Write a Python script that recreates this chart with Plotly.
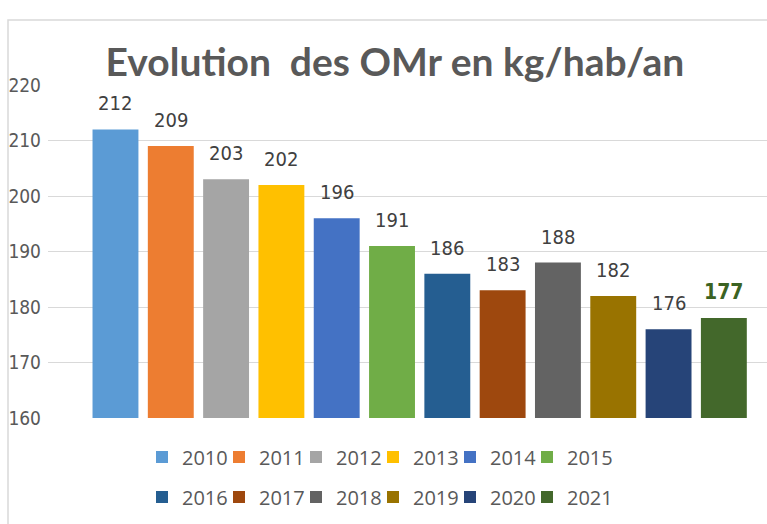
import plotly.graph_objects as go

years = ["2010", "2011", "2012", "2013", "2014", "2015",
         "2016", "2017", "2018", "2019", "2020", "2021"]
values = [212, 209, 203, 202, 196, 191, 186, 183, 188, 182, 176, 178]
labels = ["212", "209", "203", "202", "196", "191", "186", "183", "188", "182", "176", "177"]
colors = ["#5b9bd5", "#ed7d31", "#a5a5a5", "#ffc000", "#4472c4", "#70ad47",
          "#255e91", "#9e480e", "#636363", "#997300", "#264478", "#43682b"]
y_ticks = [160, 170, 180, 190, 200, 210, 220]

W, H = 767, 524
L, R, T, B = 48, 0, 85, 106
pw, ph = W - L - R, H - T - B

def px_x(p):
    return (p - L) / pw

def px_y(p):
    return (H - B - p) / ph

num_font = "Liberation Sans Narrow, DejaVu Sans Condensed, Arial Narrow, sans-serif"

fig = go.Figure()
for i, (yr, v, c) in enumerate(zip(years, values, colors)):
    fig.add_trace(go.Bar(
        x=[yr], y=[v], name=yr,
        marker=dict(color=c, line=dict(width=0)),
        width=0.83,
        legend="legend" if i < 6 else "legend2",
        hoverinfo="x+y",
    ))

# invisible spacer entries so the last legend label is not clipped
for lg in ["legend", "legend2"]:
    fig.add_trace(go.Bar(x=[None], y=[None], name=" ", legend=lg, opacity=0,
                         marker=dict(color="rgba(0,0,0,0)",
                                     line=dict(width=0, color="rgba(0,0,0,0)")),
                         hoverinfo="skip"))

for i, (yr, v, lab) in enumerate(zip(years, values, labels)):
    last = i == len(years) - 1
    fig.add_annotation(
        x=i, y=v, xref="x", yref="y", text=f"<b>{lab}</b>" if last else lab,
        showarrow=False, yanchor="bottom", yshift=12,
        font=dict(family=num_font, size=21 if last else 20,
                  color="#3b6323" if last else "#404040"),
    )

leg_font = dict(family="Open Sans, sans-serif", size=20, color="#595959")
fig.update_layout(
    width=W, height=H,
    margin=dict(l=L, r=R, t=T, b=B),
    paper_bgcolor="white", plot_bgcolor="white",
    barmode="overlay",
    title=dict(text="<b>Evolution  des OMr en kg/hab/an</b>",
               x=395 / W, xref="container", xanchor="center",
               y=1 - 62 / H, yref="container", yanchor="middle",
               font=dict(family="Lato, Open Sans, sans-serif", size=39, color="#595959")),
    xaxis=dict(type="category", categoryorder="array", categoryarray=years,
               range=[-1.22, 11.78], showticklabels=False, showgrid=False,
               zeroline=False, showline=False, ticks=""),
    yaxis=dict(range=[160, 220], tickvals=y_ticks, showgrid=True,
               gridcolor="#d9d9d9", gridwidth=1.3, zeroline=False, showline=False,
               ticks="", ticklabelstandoff=6,
               tickfont=dict(family=num_font, size=19, color="#595959")),
    legend=dict(orientation="h", x=px_x(142), xanchor="left",
                y=px_y(457), yanchor="middle", font=leg_font,
                bgcolor="rgba(0,0,0,0)", itemwidth=30,
                entrywidth=32, entrywidthmode="pixels"),
    legend2=dict(orientation="h", x=px_x(142), xanchor="left",
                 y=px_y(497), yanchor="middle", font=leg_font,
                 bgcolor="rgba(0,0,0,0)", itemwidth=30,
                 entrywidth=32, entrywidthmode="pixels"),
    shapes=[dict(type="rect", xref="paper", yref="paper",
                 x0=px_x(8), x1=px_x(W + 20), y0=px_y(H + 20), y1=px_y(20),
                 line=dict(color="#d9d9d9", width=1.5), fillcolor="rgba(0,0,0,0)",
                 layer="below")],
)

fig.write_html("out.html", config={"displayModeBar": False},
               post_script="document.body.style.margin='0';document.body.style.overflow='hidden';")
